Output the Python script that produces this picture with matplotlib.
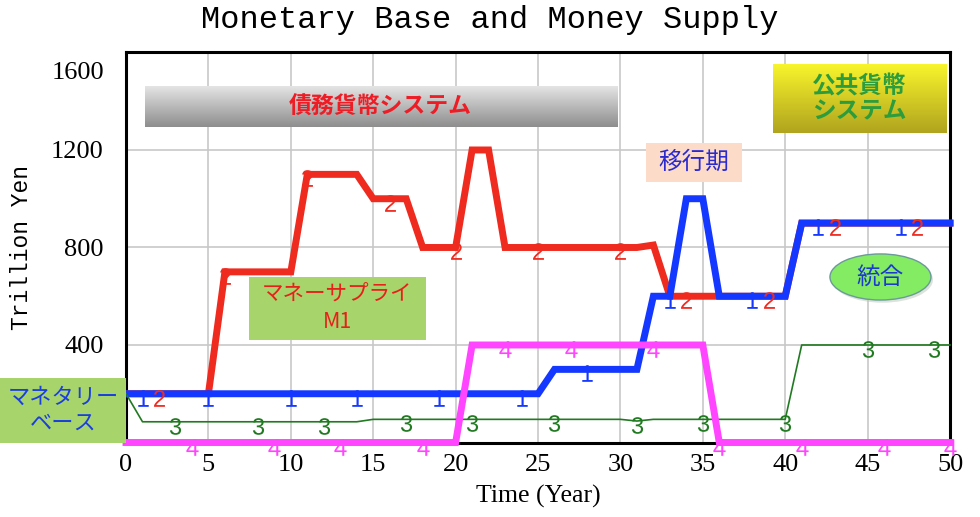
import numpy as np
import matplotlib
matplotlib.use('Agg')
import matplotlib.pyplot as plt
from matplotlib.colors import LinearSegmentedColormap
from matplotlib.patches import Rectangle, Ellipse
from matplotlib.transforms import ScaledTranslation

plt.rcParams['font.family'] = 'Liberation Serif'
plt.rcParams['mathtext.fontset'] = 'custom'
plt.rcParams['mathtext.rm'] = 'Liberation Sans'
jp = ['Noto Sans CJK JP', 'DejaVu Sans']

# 1: monetary base (blue)
base_years = [0, 25, 26, 31, 32, 33, 34, 35, 36, 40, 41, 50]
base_vals = [200, 200, 300, 300, 600, 600, 1000, 1000, 600, 600, 900, 900]
base_mk_years = [1, 5, 10, 14, 19, 24, 28, 33, 38, 42, 47]
base_mk_vals = [200, 200, 200, 200, 200, 200, 300, 600, 600, 900, 900]

# 2: money supply M1 (red)
m1_years = [0, 5, 6, 10, 11, 14, 15, 17, 18, 20, 21, 22, 23, 31, 32, 33, 36, 40, 41, 50]
m1_vals = [200, 200, 700, 700, 1100, 1100, 1000, 1000, 800, 800, 1200, 1200, 800, 800, 810, 600, 600, 600, 900, 900]
m1_mk_years = [2, 6, 11, 16, 20, 25, 30, 34, 39, 43, 48]
m1_mk_vals = [200, 700, 1100, 1000, 800, 800, 800, 600, 600, 900, 900]

# 3: green series
s3_years = [0, 1, 14, 15, 30, 31, 32, 40, 41, 50]
s3_vals = [200, 85, 85, 95, 95, 88, 95, 95, 400, 400]
s3_mk_years = [3, 8, 12, 17, 21, 26, 31, 35, 40, 45, 49]
s3_mk_vals = [85, 85, 85, 95, 95, 95, 88, 95, 95, 400, 400]

# 4: magenta series
s4_years = [0, 20, 21, 35, 36, 50]
s4_vals = [0, 0, 400, 400, 0, 0]
s4_mk_years = [4, 9, 13, 18, 23, 27, 32, 36, 41, 46, 50]
s4_mk_vals = [0, 0, 0, 0, 400, 400, 400, 0, 0, 0, 0]

x_ticks = list(range(0, 51, 5))
y_ticks = [400, 800, 1200, 1600]

red = '#ef2a1f'
blue = '#1438ff'
green = '#217a21'
magenta = '#ff45ff'

fig = plt.figure(figsize=(9.8, 5.17), dpi=100)
ax = fig.add_axes([0.1286, 0.1441, 0.8408, 0.7544])

ax.plot(m1_years, m1_vals, color=red, lw=5, clip_on=False, zorder=3, solid_joinstyle='miter')
ax.plot(base_years, base_vals, color=blue, lw=5, clip_on=False, zorder=3.1, solid_joinstyle='miter')
ax.plot(s3_years, s3_vals, color=green, lw=1.2, clip_on=False, zorder=3.2)
ax.plot(s4_years, s4_vals, color=magenta, lw=5, clip_on=False, zorder=3.3, solid_joinstyle='miter')

off = ScaledTranslation(0, -0.04, fig.dpi_scale_trans)
for yrs, vals, c, m in [(base_mk_years, base_mk_vals, blue, '1'),
                        (m1_mk_years, m1_mk_vals, red, '2'),
                        (s3_mk_years, s3_mk_vals, green, '3'),
                        (s4_mk_years, s4_mk_vals, magenta, '4')]:
    ln, = ax.plot(yrs, vals, ls='none', marker='$\\mathrm{%s}$' % m, ms=12, mew=0,
                  color=c, clip_on=False, zorder=4)
    ln.set_transform(ax.transData + off)


def gradient_box(x0, x1, y0, y1, c_top, c_bot, z=5):
    cmap = LinearSegmentedColormap.from_list('g', [c_top, c_bot])
    ax.imshow(np.linspace(0, 1, 64).reshape(-1, 1), cmap=cmap, extent=[x0, x1, y0, y1],
              aspect='auto', zorder=z, interpolation='bilinear')


# debt money system bar
gradient_box(1.15, 29.8, 1294, 1459, '#e4e4e4', '#8e8e8e')
ax.text(15.4, 1377, '債務貨幣システム', color='#ee1c25', fontsize=16.5, fontweight='bold',
        family=jp, ha='center', va='center', zorder=6)

# public money system box
gradient_box(39.26, 49.76, 1270, 1549, '#f8f42c', '#b0a41e')
ax.text(44.5, 1410, '公共貨幣\nシステム', color='#2c9c3c', fontsize=17, fontweight='bold',
        family=jp, ha='center', va='center', linespacing=1.05, zorder=6)

# transition period
ax.add_patch(Rectangle((31.55, 1069), 5.83, 160, fc='#fcdcc8', ec='none', zorder=5))
ax.text(34.45, 1149, '移行期', color='#2a2ad0', fontsize=17, family=jp,
        ha='center', va='center', zorder=6)

# money supply label
ax.add_patch(Rectangle((7.46, 420), 10.74, 259, fc='#a8d46c', ec='none', zorder=5))
ax.text(12.83, 550, 'マネーサプライ\nM1', color='#e8201a', fontsize=15.5, family=jp,
        ha='center', va='center', linespacing=1.3, zorder=6)

# monetary base label (outside the axes)
ax.add_patch(Rectangle((-0.153, 0), 0.153, 0.165, transform=ax.transAxes, fc='#a8d46c',
                       ec='none', clip_on=False, zorder=5))
ax.text(-0.0765, 0.083, 'マネタリー\nベース', transform=ax.transAxes, color='#1a3ee0',
        fontsize=16, family=jp, ha='center', va='center', linespacing=1.2, zorder=6)

# integration ellipse (with a soft shadow)
ax.add_patch(Ellipse((45.9, 668), 6.13, 189, fc='#b8c8b8', ec='none', alpha=0.5, zorder=4.9))
ax.add_patch(Ellipse((45.78, 679), 6.13, 189, fc='#84ec62', ec='#6a9a9a', lw=1, zorder=5))
ax.text(45.78, 679, '統合', color='#1a3acc', fontsize=17, family=jp,
        ha='center', va='center', zorder=6)

ax.set_xlim(0, 50)
ax.set_ylim(0, 1600)
ax.set_xticks(x_ticks)
ax.set_yticks(y_ticks)
ax.grid(True, color='#c8c8c8', lw=1.2)
ax.set_axisbelow(True)
ax.tick_params(length=0, labelsize=19)
ax.tick_params(axis='y', pad=16)
ax.tick_params(axis='x', pad=8)
for s in ax.spines.values():
    s.set_linewidth(2.2)
    s.set_color('black')

lbl = ax.get_yticklabels()[-1]
lbl.set_transform(lbl.get_transform() + ScaledTranslation(0, -0.18, fig.dpi_scale_trans))

fig.text(0.5, 0.961, 'Monetary Base and Money Supply', family='Liberation Mono',
         fontsize=23, ha='center', va='center')
fig.text(22 / 980, 1 - 247 / 517, 'Trillion Yen', family='Liberation Mono', fontsize=16.5,
         rotation=90, ha='center', va='center')
fig.text(538 / 980, 1 - 496 / 517, 'Time (Year)', fontsize=18.5, ha='center', va='center')

fig.savefig('out.png', dpi=100)
